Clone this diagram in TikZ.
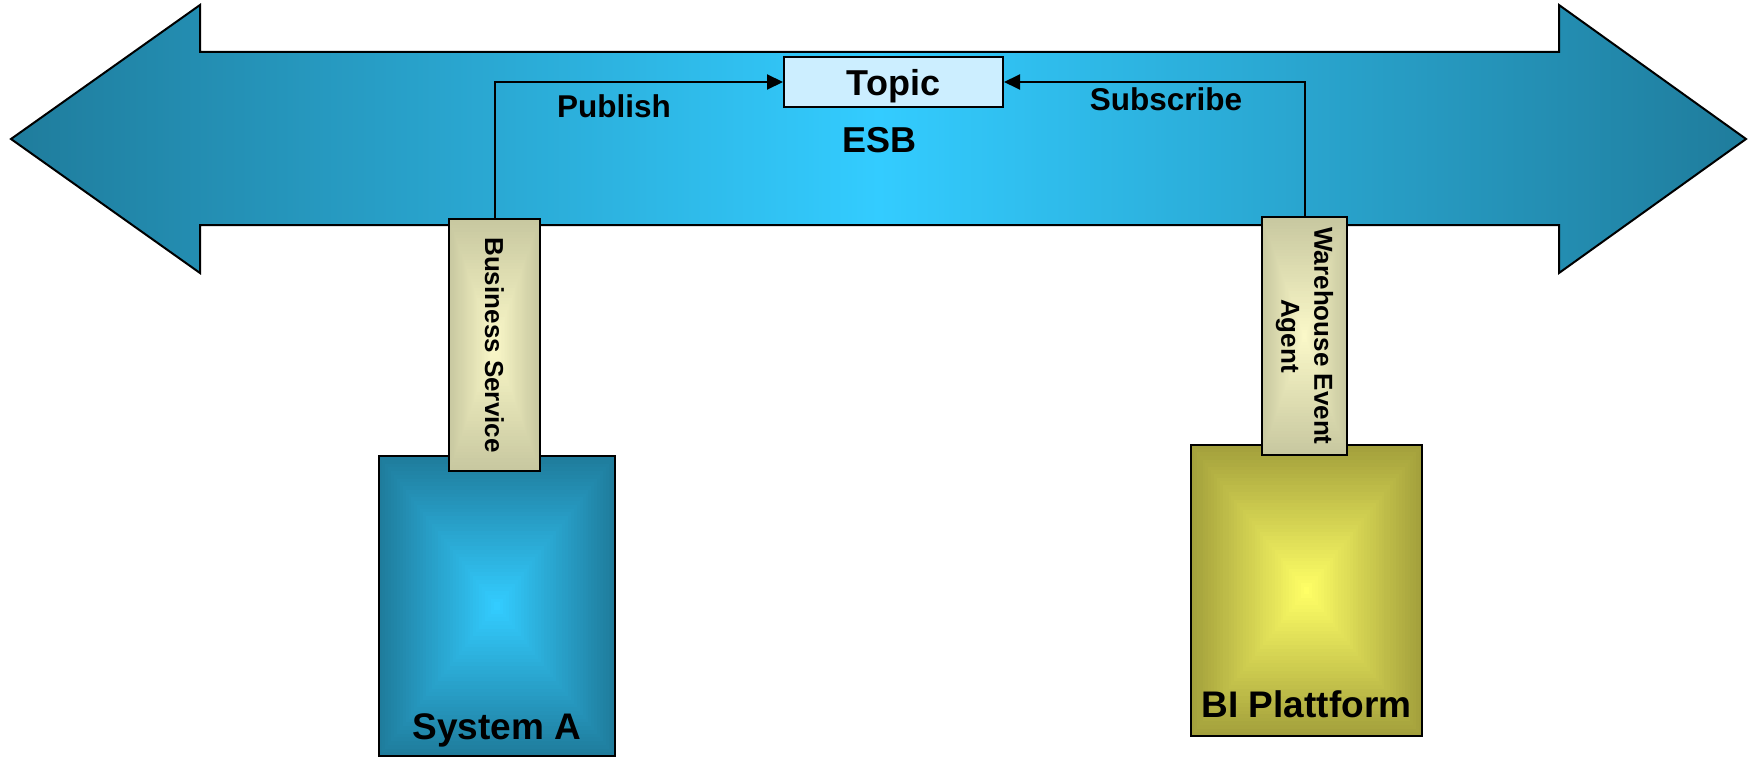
\documentclass[tikz,border=0pt]{standalone}
\usepackage{fontspec}
\setmainfont{Liberation Sans}
\usetikzlibrary{positioning,arrows.meta,calc,fadings}

\definecolor{esbdark}{RGB}{31,124,156}
\definecolor{esblight}{RGB}{51,204,255}
\definecolor{bidark}{RGB}{163,160,60}
\definecolor{bilight}{RGB}{255,255,102}
\definecolor{agentdark}{RGB}{200,200,160}
\definecolor{agentlight}{RGB}{250,248,200}
\definecolor{topicfill}{RGB}{204,238,255}

\tikzfading[name=midband, left color=transparent!100, middle color=transparent!0, right color=transparent!100]

\begin{document}
\begin{tikzpicture}[x=1pt,y=-1pt,
  busarrow/.style={left color=esbdark,right color=esbdark,middle color=esblight},
  topicbox/.style={draw=black,line width=2pt,fill=topicfill,minimum width=219pt,minimum height=50pt,inner sep=0pt,text depth=0pt,font=\fontsize{36}{43}\selectfont\bfseries},
  glow/.style 2 args={fill=#1,path picture={
    \foreach \k in {0,...,39}{
      \pgfmathsetmacro\s{1-\k/40}
      \pgfmathtruncatemacro\p{100*\k/39}
      \fill[#2!\p!#1] ($(path picture bounding box.center)!\s!(path picture bounding box.south west)$)
        rectangle ($(path picture bounding box.center)!\s!(path picture bounding box.north east)$);
    }}},
  systembox/.style={draw=black,line width=2pt,glow={esbdark}{esblight}},
  platformbox/.style={draw=black,line width=2pt,glow={bidark}{bilight}},
  agentbox/.style={draw=black,line width=2pt,glow={agentdark}{agentlight}},
  agenttext/.style={rotate=-90,align=center,inner sep=0pt,font=\fontsize{26}{33}\selectfont\bfseries},
  boxtext/.style={inner sep=0pt,text depth=0pt,font=\fontsize{37}{44}\selectfont\bfseries},
  flowtext/.style={inner sep=0pt,font=\fontsize{31.5}{38}\selectfont\bfseries},
  link/.style={line width=2pt,-{Triangle[length=16pt,width=15pt]}}
]
\useasboundingbox (0,0) rectangle (1750,757);

\path[busarrow] (11,139) -- (200,5) -- (200,52) -- (1559,52) -- (1559,5) -- (1746,139)
  -- (1559,273) -- (1559,225) -- (200,225) -- (200,273) -- cycle;
\foreach \k in {0,...,11}{
  \pgfmathsetmacro\o{0.6*(1-\k/12)}
  \fill[esbdark, fill opacity=\o, path fading=midband] (200,53+2*\k) rectangle (1559,55+2*\k);
  \fill[esbdark, fill opacity=\o, path fading=midband] (200,222-2.5*\k) rectangle (1559,224.5-2.5*\k);
}
\draw[line width=2pt] (11,139) -- (200,5) -- (200,52) -- (1559,52) -- (1559,5) -- (1746,139)
  -- (1559,273) -- (1559,225) -- (200,225) -- (200,273) -- cycle;

\node[topicbox] (topic) at (893.5,82) {Topic};
\node[boxtext, font=\fontsize{36}{43}\selectfont\bfseries] (esb) at (879,140) {ESB};

\node[systembox, minimum width=236pt, minimum height=300pt] (sysA) at (497,606) {};
\node[boxtext, above=17pt of sysA.south] (sysAname) {System A};
\node[platformbox, minimum width=231pt, minimum height=291pt] (bi) at (1306.5,590.5) {};
\node[boxtext, above=19pt of bi.south] (biname) {BI Plattform};

\node[agentbox, minimum width=91pt, minimum height=252pt] (service) at (494.5,345) {};
\node[agenttext] at (service) {Business Service};
\node[agentbox, minimum width=85pt, minimum height=238pt] (agent) at (1304.5,336) {};
\node[agenttext] at (agent) {Warehouse Event\\Agent};

\draw[link] (service.north) |- (topic.west);
\draw[link] (agent.north) |- (topic.east);

\node[flowtext] (publish) at (614,106) {Publish};
\node[flowtext] (subscribe) at (1166,99) {Subscribe};
\end{tikzpicture}
\end{document}
